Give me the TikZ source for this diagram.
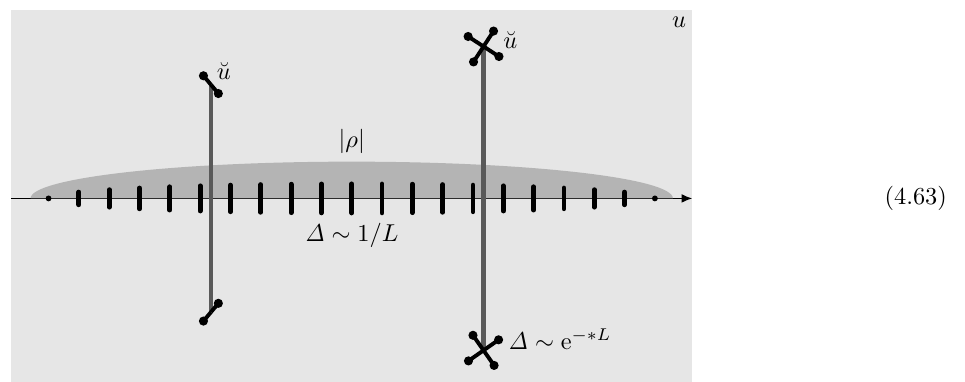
\documentclass[tikz,border=0pt]{standalone}
\usepackage{amsmath,amssymb}
\usepackage{tikz}
\usetikzlibrary{arrows.meta}
\definecolor{Fondo}{HTML}{E6E6E6}
\definecolor{Sombra}{HTML}{A6A6A6}
\definecolor{GrisBarra}{HTML}{595959}

\begin{document}
\begin{tikzpicture}[>={Latex[length=4.4pt,width=3.6pt]},
    raya/.style={line width=2pt,line cap=round},
    barra/.style={GrisBarra,line width=1.85pt},
    pesa/.style={line width=1.6pt}]
  \useasboundingbox (-5.07,-2.64) rectangle (8.84,2.86);
  \fill[Fondo] (-4.91,-2.64) rectangle (4.91,2.72);
  \draw[->,line width=0.6pt] (-4.91,0)--(4.91,0);
  \fill[Sombra,fill opacity=0.77] (-4.63,0) arc (180:0:4.63 and 0.53) -- cycle;
  % niveles
  \foreach \k in {-9,...,9}{
    \pgfmathsetmacro{\x}{0.437*\k}
    \pgfmathsetmacro{\h}{0.209*sqrt(1-(\k/10)^2)}
    \draw[raya] (\x,-\h)--(\x,\h);
  }
  \fill (-4.37,0) circle (1.2pt);
  \fill (4.37,0) circle (1.2pt);
  % cortes
  \coordinate (ua) at (-2.03,1.64);
  \coordinate (ub) at (-2.03,-1.64);
  \coordinate (va) at (1.90,2.19);
  \coordinate (vb) at (1.90,-2.19);
  \draw[barra] (ua)--(ub);
  \draw[barra] (va)--(vb);
  \foreach \p/\a in {ua/130,ua/310,ub/50,ub/230}{
    \draw[pesa] (\p)--([shift={(\a:0.167)}]\p);
    \fill ([shift={(\a:0.167)}]\p) circle (0.066);
  }
  \foreach \p/\a in {va/57,va/147,va/237,va/327,vb/35,vb/125,vb/215,vb/305}{
    \draw[pesa] (\p)--([shift={(\a:0.265)}]\p);
    \fill ([shift={(\a:0.265)}]\p) circle (0.066);
  }
  \node[anchor=base west,inner sep=0pt] (lua) at (-1.95,1.71) {$\breve u$};
  \node[anchor=base west,inner sep=0pt] (lva) at (2.18,2.16) {$\breve u$};
  \node[anchor=base west,inner sep=0pt] (lvb) at (2.25,-2.18)
    {$\mathit{\Delta}\sim\mathrm{e}^{-*L}$};
  \node (rho) at (0,0.82) {$|\rho|$};
  \node[anchor=base,inner sep=0pt] (esp) at (0,-0.625) {$\mathit{\Delta}\sim 1/L$};
  \node[anchor=base,inner sep=0pt] (plano) at (4.72,2.47) {$u$};
  \node (eq) at (8.13,0) {(4.63)};
\end{tikzpicture}
\end{document}
